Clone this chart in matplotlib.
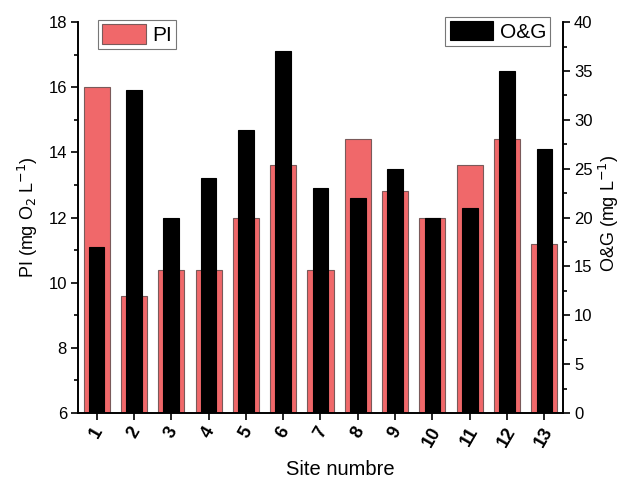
import matplotlib

matplotlib.use("Agg")
from matplotlib import pyplot as plt
from matplotlib.ticker import MultipleLocator

plt.rcParams["font.family"] = ["Liberation Sans", "DejaVu Sans"]

sites = list(range(1, 14))
site_labels = [str(s) for s in sites]
pi_values = [16.0, 9.6, 10.4, 10.4, 12.0, 13.6, 10.4, 14.4, 12.8, 12.0, 13.6, 14.4, 11.2]
og_values = [17, 33, 20, 24, 29, 37, 23, 22, 25, 20, 21, 35, 27]

fig = plt.figure(figsize=(6.21, 4.8), dpi=100)
ax = fig.add_axes([0.1256, 0.1396, 0.781, 0.8144])
ax2 = ax.twinx()

ax.bar(sites, [v - 6 for v in pi_values], bottom=6, width=0.7,
       color="#f0686a", edgecolor="#7a5a5a", linewidth=0.8, label="PI")
ax2.bar(sites, og_values, width=0.42, color="black", edgecolor="black",
        linewidth=0.8, label="O&G")

ax.set_xlim(0.5, 13.5)
ax.set_ylim(6, 18)
ax2.set_ylim(0, 40)

ax.yaxis.set_major_locator(MultipleLocator(2))
ax.yaxis.set_minor_locator(MultipleLocator(1))
ax2.yaxis.set_major_locator(MultipleLocator(5))
ax2.yaxis.set_minor_locator(MultipleLocator(2.5))

ax.set_xticks(sites)
ax.set_xticklabels(site_labels, rotation=60, fontweight="bold", fontsize=13,
                   ha="center")
ax.tick_params(axis="both", which="major", direction="out", length=5, width=1.2,
               labelsize=12, pad=3)
ax.tick_params(axis="x", labelsize=13)
ax.tick_params(axis="y", which="minor", direction="out", length=3, width=1.2)
ax2.tick_params(axis="y", which="major", direction="out", length=5, width=1.2,
                labelsize=12, pad=3)
ax2.tick_params(axis="y", which="minor", direction="out", length=3, width=1.2)

for axis in (ax, ax2):
    axis.spines["top"].set_visible(False)
    for side in ("left", "right", "bottom"):
        axis.spines[side].set_linewidth(1.2)

ax.set_ylabel("PI (mg O$_2$ L$^{-1}$)", fontsize=13, va="center")
ax.yaxis.set_label_coords(-0.103, 0.5)
ax2.set_ylabel("O&G (mg L$^{-1}$)", fontsize=13, rotation=90, va="center")
ax2.yaxis.set_label_coords(1.094, 0.51)
ax.set_xlabel("Site numbre", fontsize=14.5, va="center")
ax.xaxis.set_label_coords(0.54, -0.145)

leg1 = ax.legend(loc="upper left", bbox_to_anchor=(0.158, 0.958),
                 bbox_transform=fig.transFigure, borderaxespad=0, fontsize=15,
                 fancybox=False, edgecolor="#555555", borderpad=0.2,
                 handlelength=2.1, handleheight=1.05, handletextpad=0.3)
leg1.get_frame().set_linewidth(0.8)
leg2 = ax2.legend(loc="upper right", bbox_to_anchor=(0.886, 0.965),
                  bbox_transform=fig.transFigure, borderaxespad=0, fontsize=15,
                  fancybox=False, edgecolor="#555555", borderpad=0.2,
                  handlelength=2.1, handleheight=1.05, handletextpad=0.3)
leg2.get_frame().set_linewidth(0.8)

fig.savefig("out.png", dpi=100)
plt.close(fig)
